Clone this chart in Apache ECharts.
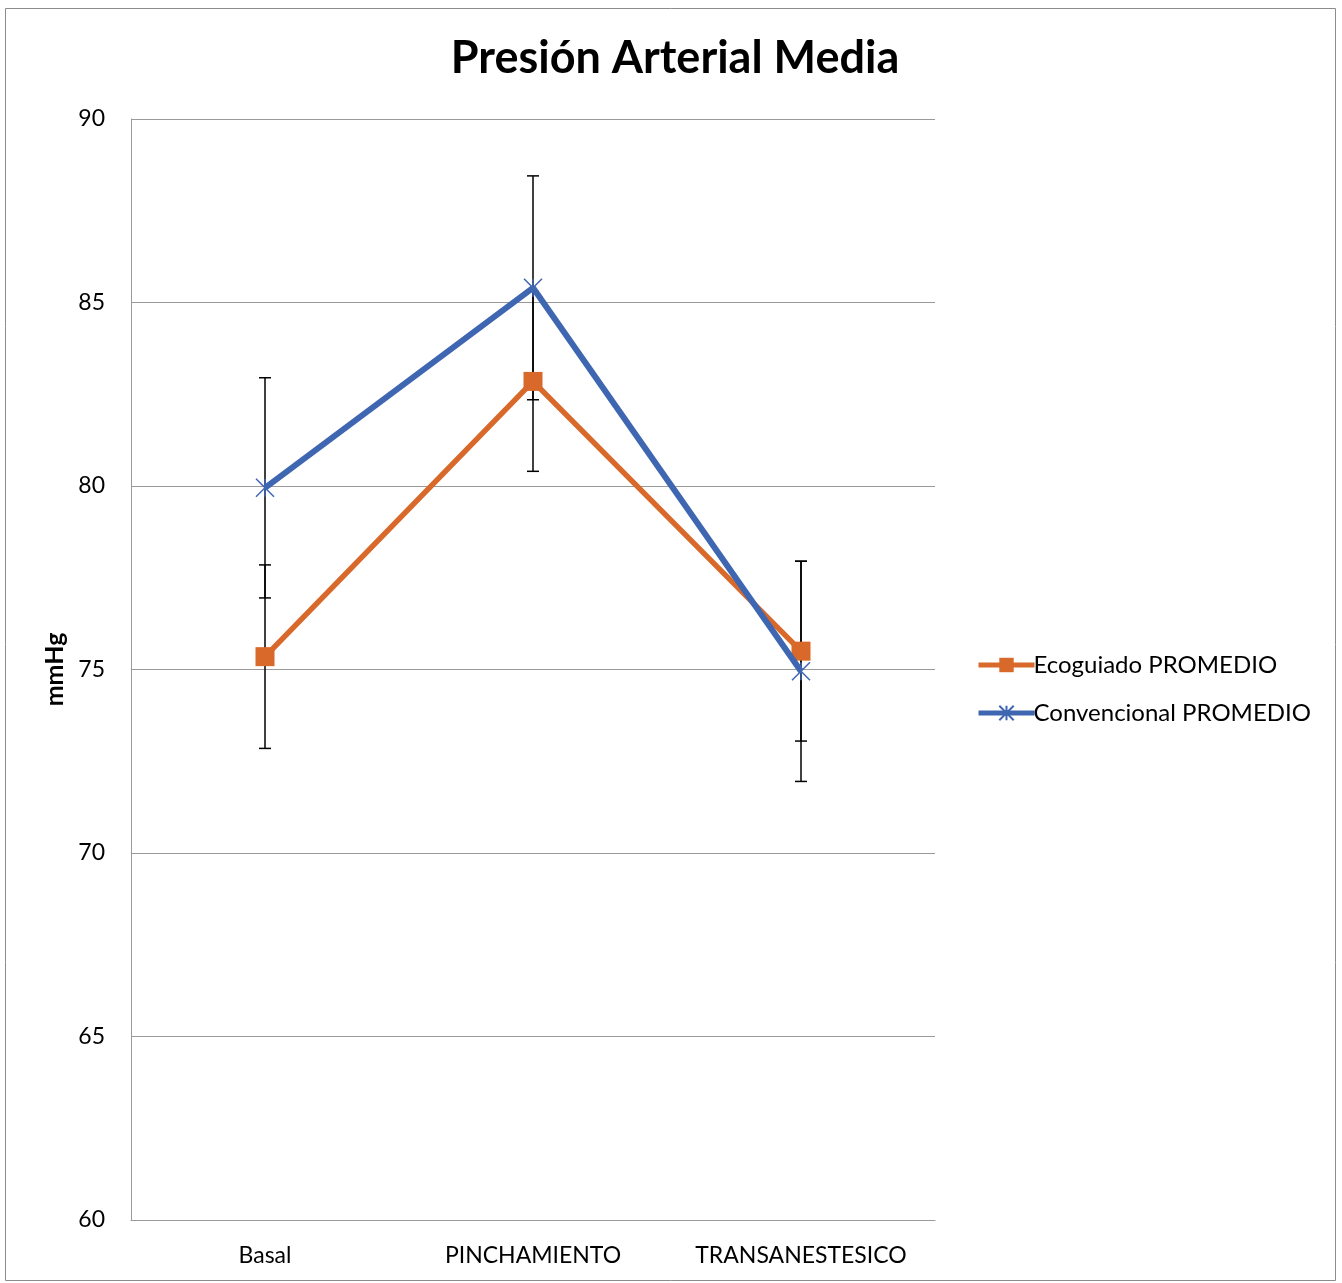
<!DOCTYPE html>
<html>
<head>
<meta charset="utf-8">
<script src="https://cdn.jsdelivr.net/npm/echarts@6/dist/echarts.min.js"></script>
<style>
  html,body{margin:0;padding:0;background:#fff;}
  #chart{width:1342px;height:1283px;}
</style>
</head>
<body>
<div id="chart"></div>
<script>
const categories = ['Basal', 'PINCHAMIENTO', 'TRANSANESTESICO']
const ecoMean = [75.35, 82.85, 75.5]
const ecoErr = [2.5, 2.45, 2.45]
const convMean = [79.95, 85.4, 74.95]
const convErr = [3.0, 3.05, 3.0]

const ORANGE = '#D9692A'
const BLUE = '#3F67B1'
const FONT = 'Lato'

// barras de error: linea vertical con tapas
function errorSeries(name, mean, err) {
  return {
    name: name + '_err',
    type: 'custom',
    z: 1,
    silent: true,
    data: mean.map((m, i) => [i, m - err[i], m + err[i]]),
    renderItem(params, api) {
      const lo = api.coord([api.value(0), api.value(1)])
      const hi = api.coord([api.value(0), api.value(2)])
      const w = 6
      const style = {stroke: '#000', lineWidth: 1.5}
      return {
        type: 'group',
        children: [
          {type: 'line', shape: {x1: lo[0], y1: lo[1], x2: hi[0], y2: hi[1]}, style},
          {type: 'line', shape: {x1: lo[0] - w, y1: lo[1], x2: lo[0] + w, y2: lo[1]}, style},
          {type: 'line', shape: {x1: hi[0] - w, y1: hi[1], x2: hi[0] + w, y2: hi[1]}, style}
        ]
      }
    }
  }
}

const chart = echarts.init(document.getElementById('chart'))
const option = {
  animation: false,
  backgroundColor: '#fff',
  graphic: [{
    type: 'rect',
    shape: {x: 5.5, y: 8.5, width: 1330, height: 1272},
    style: {fill: 'none', stroke: '#8c8c8c', lineWidth: 1}
  }],
  title: {
    text: 'Presión Arterial Media',
    left: 670,
    textAlign: 'center',
    top: 31,
    textStyle: {fontFamily: FONT, fontSize: 45, fontWeight: 'bold', color: '#000'}
  },
  legend: {
    left: 971,
    top: 648,
    orient: 'vertical',
    itemWidth: 56,
    itemHeight: 18,
    itemGap: 24,
    lineStyle: {width: 5},
    data: ['Ecoguiado PROMEDIO', 'Convencional PROMEDIO'],
    textStyle: {fontFamily: FONT, fontSize: 24, color: '#000', padding: [0, 0, 0, -6]}
  },
  grid: {left: 131, right: 407, top: 119, bottom: 63},
  xAxis: {
    type: 'category',
    data: categories,
    axisLine: {lineStyle: {color: '#9a9a9a', width: 1}},
    axisTick: {show: false},
    axisLabel: {interval: 0, hideOverlap: false, fontFamily: FONT, fontSize: 23, color: '#000', margin: 24}
  },
  yAxis: {
    type: 'value',
    min: 60,
    max: 90,
    interval: 5,
    name: 'mmHg',
    nameLocation: 'middle',
    nameGap: 64,
    nameTextStyle: {fontFamily: FONT, fontSize: 25, fontWeight: 'bold', color: '#000'},
    axisLine: {show: true, lineStyle: {color: '#9a9a9a', width: 1}},
    axisTick: {show: false},
    splitLine: {lineStyle: {color: '#9a9a9a', width: 1}},
    axisLabel: {fontFamily: FONT, fontSize: 23, color: '#000', margin: 26}
  },
  series: [
    errorSeries('eco', ecoMean, ecoErr),
    errorSeries('conv', convMean, convErr),
    {
      name: 'Ecoguiado PROMEDIO',
      type: 'line',
      z: 3,
      data: ecoMean,
      symbol: 'rect',
      symbolSize: 19,
      lineStyle: {color: ORANGE, width: 5.5},
      itemStyle: {color: ORANGE}
    },
    {
      name: 'Convencional PROMEDIO',
      type: 'line',
      z: 4,
      data: convMean,
      symbol: 'path://M0,0L10,10M10,0L0,10M5,0L5,10',
      symbolSize: 18,
      lineStyle: {color: BLUE, width: 6},
      itemStyle: {color: 'none', borderColor: BLUE, borderWidth: 1.5}
    }
  ]
}
chart.setOption(option)
</script>
</body>
</html>
